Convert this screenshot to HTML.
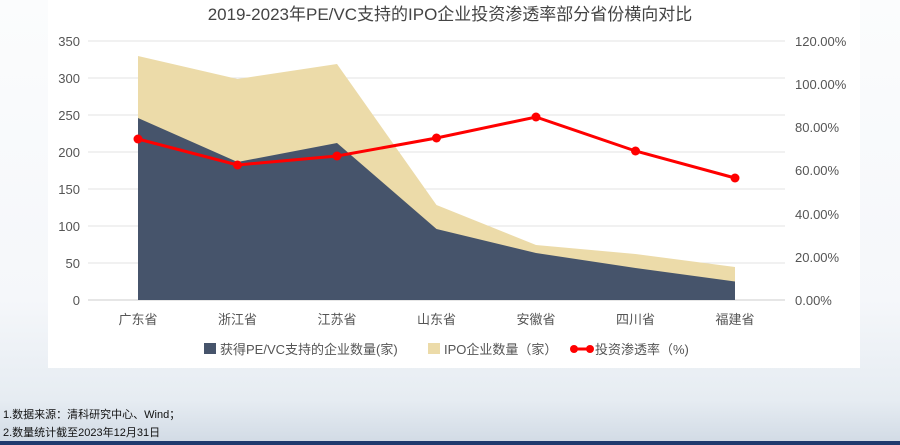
<!DOCTYPE html>
<html><head><meta charset="utf-8"><style>
body{margin:0;width:900px;height:445px;overflow:hidden;font-family:"Liberation Sans","Noto Sans CJK SC",sans-serif;background:linear-gradient(#fbfcfd 0,#f5f7fa 300px,#e6ecf2 400px,#d3dce6 440px);position:relative}
.panel{position:absolute;left:48px;top:0;width:812px;height:368px;background:#fff}
.bar{position:absolute;left:0;bottom:0;width:900px;height:4px;background:#1f3a6e}
.note{position:absolute;left:3px;font-size:11px;color:#111}
</style></head><body>
<div class="panel"></div>
<svg width="900" height="445" style="position:absolute;left:0;top:0">
<text x="450" y="20" text-anchor="middle" font-size="17" fill="#444">2019-2023年PE/VC支持的IPO企业投资渗透率部分省份横向对比</text>
<g stroke="#e3e3e3" stroke-width="1">
<line x1="88" x2="785" y1="41" y2="41"/><line x1="88" x2="785" y1="78" y2="78"/><line x1="88" x2="785" y1="115" y2="115"/><line x1="88" x2="785" y1="152" y2="152"/><line x1="88" x2="785" y1="189" y2="189"/><line x1="88" x2="785" y1="226" y2="226"/><line x1="88" x2="785" y1="263" y2="263"/>
</g>
<line x1="88" x2="785" y1="300" y2="300" stroke="#ccc"/>
<g font-size="13" fill="#555" text-anchor="end">
<text x="80" y="46">350</text><text x="80" y="83">300</text><text x="80" y="120">250</text><text x="80" y="157">200</text><text x="80" y="194">150</text><text x="80" y="231">100</text><text x="80" y="268">50</text><text x="80" y="305">0</text>
</g>
<g font-size="13" fill="#555">
<text x="795" y="46">120.00%</text><text x="795" y="89">100.00%</text><text x="795" y="132">80.00%</text><text x="795" y="175">60.00%</text><text x="795" y="219">40.00%</text><text x="795" y="262">20.00%</text><text x="795" y="305">0.00%</text>
</g>
<polygon fill="#ecdba9" points="138,300 138,56 237.5,79 337,64 436.5,205 536,245 635.5,254 735,267 735,300"/>
<polygon fill="#46546b" points="138,300 138,118 237.5,162 337,143 436.5,229 536,253 635.5,268 735,281.5 735,300"/>
<polyline fill="none" stroke="#ff0000" stroke-width="3" points="138,139 237.5,165 337,156 436.5,138 536,117 635.5,151 735,178"/>
<g fill="#ff0000"><circle cx="138" cy="139" r="4.5"/><circle cx="237.5" cy="165" r="4.5"/><circle cx="337" cy="156" r="4.5"/><circle cx="436.5" cy="138" r="4.5"/><circle cx="536" cy="117" r="4.5"/><circle cx="635.5" cy="151" r="4.5"/><circle cx="735" cy="178" r="4.5"/></g>
<g font-size="13" fill="#555" text-anchor="middle">
<text x="138" y="324">广东省</text><text x="237.5" y="324">浙江省</text><text x="337" y="324">江苏省</text><text x="436.5" y="324">山东省</text><text x="536" y="324">安徽省</text><text x="635.5" y="324">四川省</text><text x="735" y="324">福建省</text>
</g>
<g font-size="13" fill="#555">
<rect x="204" y="343" width="12" height="11" fill="#46546b"/><text x="220" y="354">获得PE/VC支持的企业数量(家)</text>
<rect x="428" y="343" width="12" height="11" fill="#ecdba9"/><text x="444" y="354">IPO企业数量（家）</text>
<line x1="572" x2="592" y1="349" y2="349" stroke="#f00" stroke-width="3"/><circle cx="574" cy="349" r="4" fill="#f00"/><circle cx="590" cy="349" r="4" fill="#f00"/>
<text x="595" y="354">投资渗透率（%)</text>
</g>
</svg>
<div class="note" style="top:406px">1.数据来源：清科研究中心、Wind；</div>
<div class="note" style="top:424px">2.数量统计截至2023年12月31日</div>
<div class="bar"></div>
</body></html>
